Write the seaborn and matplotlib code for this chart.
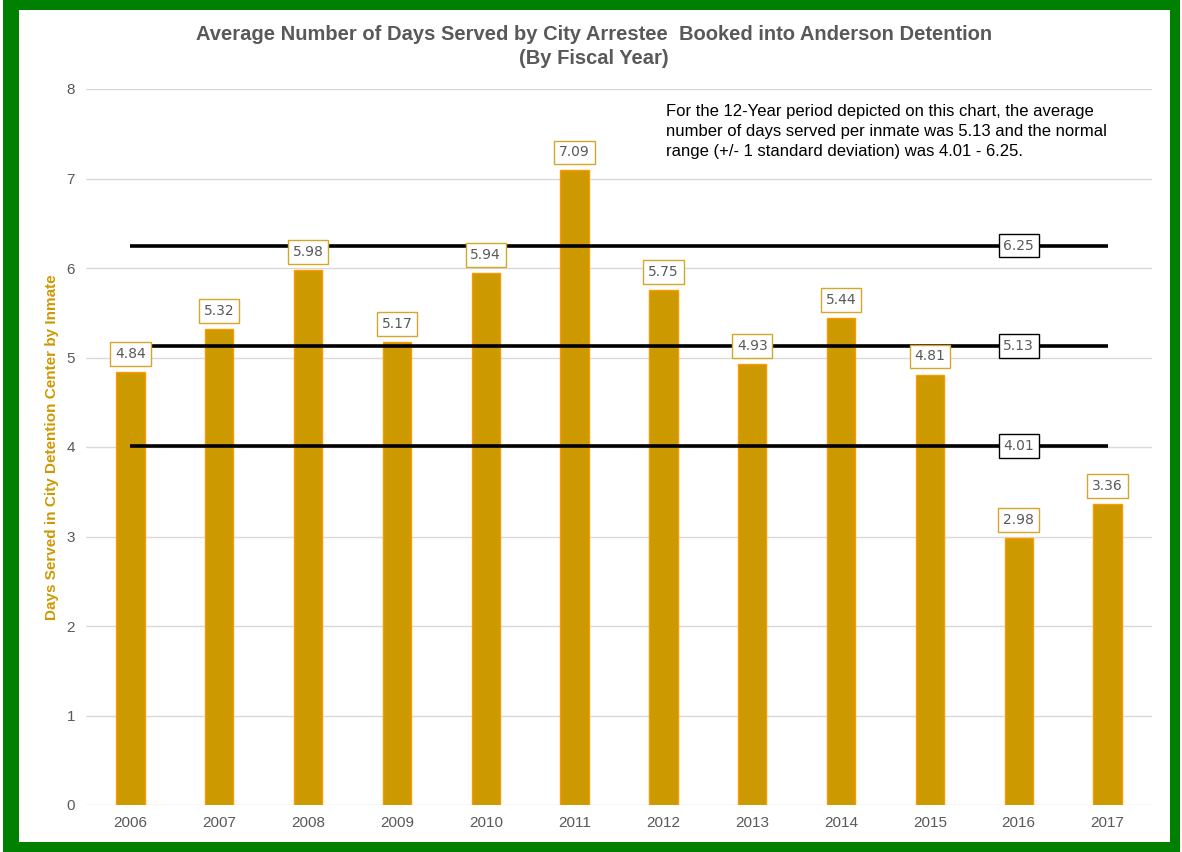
import matplotlib
matplotlib.use("Agg")
import matplotlib.pyplot as plt
import seaborn as sns
import pandas as pd
from matplotlib import patches

years = ['2006', '2007', '2008', '2009', '2010', '2011', '2012', '2013', '2014', '2015', '2016', '2017']
days = [4.84, 5.32, 5.98, 5.17, 5.94, 7.09, 5.75, 4.93, 5.44, 4.81, 2.98, 3.36]
ref_lines = [6.25, 5.13, 4.01]
ref_label_year = '2016'

note = ("For the 12-Year period depicted on this chart, the average\n"
        "number of days served per inmate was 5.13 and the normal\n"
        "range (+/- 1 standard deviation) was 4.01 - 6.25.")

sns.set_style('white')
plt.rcParams['font.family'] = ['Liberation Sans', 'DejaVu Sans']

grey = '#595959'
gold = '#CC9900'

data = pd.DataFrame({'year': years, 'days': days})

fig = plt.figure(figsize=(11.82, 8.52), dpi=100)
# green frame
fig.patches.append(patches.Rectangle((3 / 1182, 0), 1177 / 1182, 1, transform=fig.transFigure,
                                     facecolor='#008000', edgecolor='none', zorder=-2))
fig.patches.append(patches.Rectangle((19 / 1182, 10 / 852), 1151 / 1182, 832 / 852,
                                     transform=fig.transFigure, facecolor='white',
                                     edgecolor='none', zorder=-1))

ax = fig.add_axes([86 / 1182, 1 - 805 / 852, 1066 / 1182, 716 / 852])
ax.set_facecolor('none')

sns.barplot(data=data, x='year', y='days', color=gold, width=0.32,
            edgecolor='#FF9900', linewidth=1, saturation=1, ax=ax, zorder=2)

ax.set_ylim(0, 8)
ax.set_yticks(range(0, 9))
ax.grid(axis='y', color='#D9D9D9', linewidth=1, zorder=0)
ax.set_axisbelow(True)
for s in ax.spines.values():
    s.set_visible(False)
ax.tick_params(axis='both', colors=grey, labelsize=11, length=0, pad=8)
ax.set_xlabel('')
ax.set_ylabel('Days Served in City Detention Center by Inmate', color=gold,
              fontsize=11, fontweight='bold', labelpad=5)

# value labels
for i, v in enumerate(days):
    ax.annotate(f'{v:.2f}', (i, v), xytext=(0, 13), textcoords='offset points',
                ha='center', va='center', fontsize=10, color=grey,
                family=['DejaVu Sans'],
                bbox=dict(boxstyle='square,pad=0.35', fc='white', ec='#D4A62A', lw=1),
                zorder=5)

# mean and +/- 1 sd lines
li = years.index(ref_label_year)
for r in ref_lines:
    ax.hlines(r, 0, len(years) - 1, color='black', linewidth=2.6, zorder=3)
    ax.text(li, r, f'{r:.2f}', ha='center', va='center', fontsize=10, color=grey,
            family=['DejaVu Sans'],
            bbox=dict(boxstyle='square,pad=0.35', fc='white', ec='black', lw=1), zorder=4)

ax.set_xlim(-0.5, len(years) - 0.5)

fig.text(666 / 1182, 1 - 104 / 852, note, ha='left', va='top', fontsize=12,
         color='black', linespacing=1.42)

fig.text(594 / 1182, 1 - 34 / 852, 'Average Number of Days Served by City Arrestee  Booked into Anderson Detention',
         ha='center', va='center', fontsize=14.5, fontweight='bold', color=grey)
fig.text(594 / 1182, 1 - 58 / 852, '(By Fiscal Year)',
         ha='center', va='center', fontsize=14.5, fontweight='bold', color=grey)

fig.savefig('out.png', dpi=100)
